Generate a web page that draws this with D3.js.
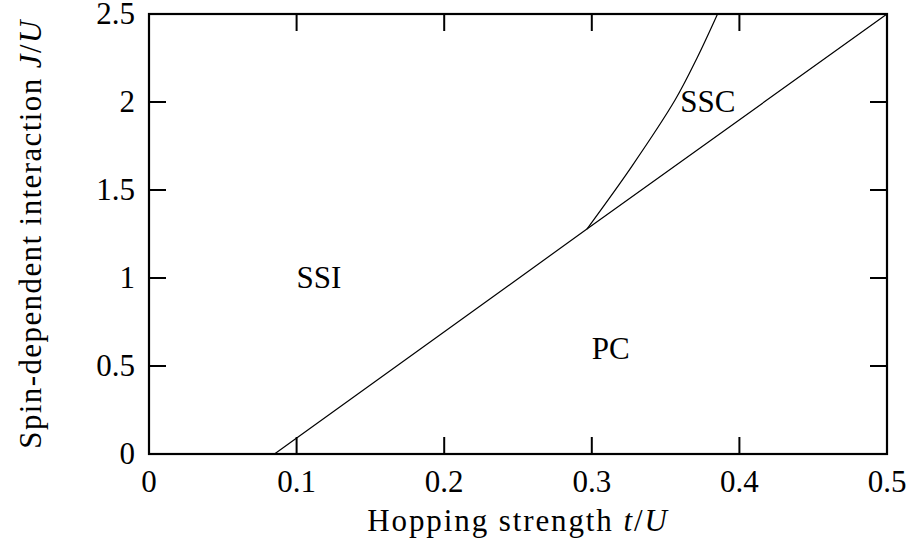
<!DOCTYPE html>
<html>
<head>
<meta charset="utf-8">
<script src="https://cdn.jsdelivr.net/npm/d3@7"></script>
<style>
  body { margin: 0; background: #fff; }
  svg { display: block; }
  svg text { font-family: "Liberation Serif", "DejaVu Serif", serif; fill: #000; }
</style>
</head>
<body>
<div class="chart-wrapper"><svg></svg></div>
<script>
// axis ticks
var xTicks = [0, 0.1, 0.2, 0.3, 0.4, 0.5];
var xTickLabels = ["0", "0.1", "0.2", "0.3", "0.4", "0.5"];
var yTicks = [0, 0.5, 1, 1.5, 2, 2.5];
var yTickLabels = ["0", "0.5", "1", "1.5", "2", "2.5"];

// phase boundaries, [t/U, J/U]
var boundaryPC = [[0.085, 0], [0.2967, 1.278], [0.5, 2.5]];
var boundarySSC = [[0.2967, 1.278], [0.327, 1.633], [0.3564, 2.011], [0.3713, 2.25], [0.3852, 2.5]];

// region names and where they sit
var regionNames = ["SSI", "PC", "SSC"];
var regionT = [0.1, 0.3, 0.36];
var regionJ = [1.0, 0.6, 2.0];

function drawChart(wrapper) {

    var width = 912,
        height = 540;

    var margin = {left: 149, right: 25, top: 14, bottom: 86};

    var svg = d3.select(wrapper).select("svg")
        .attr("width", width)
        .attr("height", height);

    var x = d3.scaleLinear()
        .domain([0, 0.5])
        .range([margin.left, width - margin.right]);

    var y = d3.scaleLinear()
        .domain([0, 2.5])
        .range([height - margin.bottom, margin.top]);

    var fontSize = 31,
        tickLen = 17;

    // phase boundaries
    var line = d3.line()
        .x(function(d) { return x(d[0]); })
        .y(function(d) { return y(d[1]); });

    svg.append("path")
        .datum(boundaryPC)
        .attr("d", line)
        .attr("fill", "none")
        .attr("stroke", "#000")
        .attr("stroke-width", 1.2);

    svg.append("path")
        .datum(boundarySSC)
        .attr("d", line.curve(d3.curveCatmullRom))
        .attr("fill", "none")
        .attr("stroke", "#000")
        .attr("stroke-width", 1.2);

    // ticks, mirrored on all four sides
    var g = svg.append("g")
        .attr("stroke", "#000")
        .attr("stroke-width", 2);

    xTicks.forEach(function(t) {
        g.append("line")
            .attr("x1", x(t)).attr("x2", x(t))
            .attr("y1", y(0)).attr("y2", y(0) - tickLen);
        g.append("line")
            .attr("x1", x(t)).attr("x2", x(t))
            .attr("y1", y(2.5)).attr("y2", y(2.5) + tickLen);
    });

    yTicks.forEach(function(v) {
        g.append("line")
            .attr("x1", x(0)).attr("x2", x(0) + tickLen)
            .attr("y1", y(v)).attr("y2", y(v));
        g.append("line")
            .attr("x1", x(0.5)).attr("x2", x(0.5) - tickLen)
            .attr("y1", y(v)).attr("y2", y(v));
    });

    // frame
    svg.append("rect")
        .attr("x", x(0))
        .attr("y", y(2.5))
        .attr("width", x(0.5) - x(0))
        .attr("height", y(0) - y(2.5))
        .attr("fill", "none")
        .attr("stroke", "#000")
        .attr("stroke-width", 2.2);

    // tick labels
    svg.selectAll(".xlabel")
        .data(xTicks)
        .enter()
        .append("text")
        .attr("class", "xlabel")
        .attr("x", function(d) { return x(d); })
        .attr("y", 492)
        .attr("text-anchor", "middle")
        .attr("font-size", fontSize)
        .text(function(d, i) { return xTickLabels[i]; });

    svg.selectAll(".ylabel")
        .data(yTicks)
        .enter()
        .append("text")
        .attr("class", "ylabel")
        .attr("x", x(0) - 14)
        .attr("y", function(d) { return y(d); })
        .attr("dy", "0.33em")
        .attr("text-anchor", "end")
        .attr("font-size", fontSize)
        .text(function(d, i) { return yTickLabels[i]; });

    // axis titles
    var xt = svg.append("text")
        .attr("x", (x(0) + x(0.5)) / 2)
        .attr("y", 531)
        .attr("text-anchor", "middle")
        .attr("font-size", fontSize)
        .attr("letter-spacing", "1.9px");
    xt.append("tspan").text("Hopping strength ");
    xt.append("tspan").attr("font-style", "italic").text("t");
    xt.append("tspan").text("/");
    xt.append("tspan").attr("font-style", "italic").text("U");

    var yt = svg.append("text")
        .attr("transform", "translate(41," + ((y(0) + y(2.5)) / 2) + ") rotate(-90)")
        .attr("text-anchor", "middle")
        .attr("font-size", fontSize)
        .attr("letter-spacing", "1.4px");
    yt.append("tspan").text("Spin-dependent interaction ");
    yt.append("tspan").attr("font-style", "italic").text("J");
    yt.append("tspan").text("/");
    yt.append("tspan").attr("font-style", "italic").text("U");

    // region names
    svg.selectAll(".region")
        .data(regionNames)
        .enter()
        .append("text")
        .attr("class", "region")
        .attr("x", function(d, i) { return x(regionT[i]); })
        .attr("y", function(d, i) { return y(regionJ[i]); })
        .attr("dy", "0.33em")
        .attr("font-size", fontSize)
        .text(function(d) { return d; });
}

drawChart(document.querySelector(".chart-wrapper"));
</script>
</body>
</html>
